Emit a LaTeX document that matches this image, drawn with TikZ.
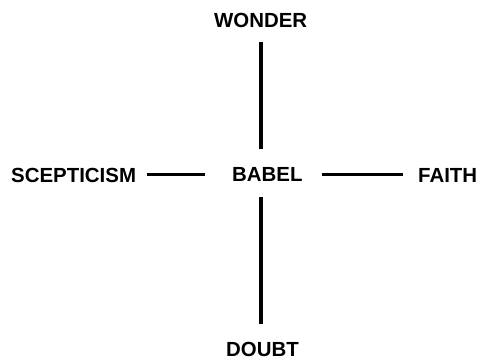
\documentclass[tikz,border=0pt]{standalone}
\usepackage{fontspec}
\setmainfont{Liberation Sans}
\usetikzlibrary{positioning, calc}

\tikzset{
  word/.style={font=\fontsize{20.5}{24}\selectfont\bfseries, inner sep=0pt, anchor=base west},
  arm/.style={line width=3.6bp}
}

\begin{document}
\begin{tikzpicture}[x=1bp, y=-1bp]
        \useasboundingbox[fill=white] (0,0) rectangle (479,359);

        % Words
        \node[word] (wonder) at (214,27) {WONDER};
        \node[word] (babel) at (232,181.5) {BABEL};
        \node[word] (scepticism) at (11,182) {SCEPTICISM};
        \node[word] (faith) at (418,182) {FAITH};
        \node[word] (doubt) at (226,356) {DOUBT};

        % Crossing point of the arms
        \coordinate (hub) at (261,174.5);

        % Vertical arms
        \draw[arm, shorten <=15bp, shorten >=18bp] (wonder.south -| hub) -- (babel.north -| hub);
        \draw[arm, shorten <=15bp, shorten >=18bp] (babel.south -| hub) -- (doubt.north -| hub);

        % Horizontal arms
        \draw[arm, shorten <=11bp, shorten >=27bp] (scepticism.east |- hub) -- (babel.west |- hub);
        \draw[arm, shorten <=19bp, shorten >=15bp] (babel.east |- hub) -- (faith.west |- hub);
      \end{tikzpicture}
\end{document}
